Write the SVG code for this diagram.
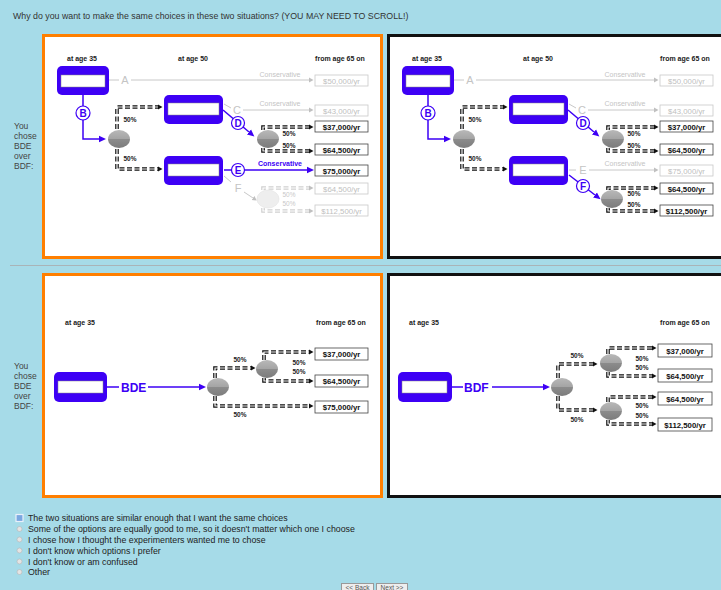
<svg xmlns="http://www.w3.org/2000/svg" width="721" height="590" viewBox="0 0 721 590">
<defs>
<style>
text{font-family:"Liberation Sans",Arial,sans-serif}
.q{font-size:8.8px;fill:#333}
.side{font-size:8.5px;fill:#444}
.opt{font-size:8.8px;fill:#222}
.hdr{font-size:7px;font-weight:bold;fill:#222;text-anchor:middle}
.box{fill:#fff;stroke:#444;stroke-width:0.8}
.boxg{fill:#fff;stroke:#c8c8c8;stroke-width:0.8}
.val{font-size:7.8px;font-weight:bold;fill:#111;text-anchor:middle}
.valg{font-size:7.8px;fill:#c0c0c0;text-anchor:middle}
.node{fill:#3d00f5}
.inner{fill:#fff;stroke:#888;stroke-width:0.5}
.blue{stroke:#3d00f5;stroke-width:1.5;fill:none}
.gray{stroke:#c8c8c8;stroke-width:1;fill:none}
.dash{stroke:#111;stroke-width:3.6;stroke-dasharray:5 2.5;fill:none}
.dashg{stroke:#d0d0d0;stroke-width:3.6;stroke-dasharray:5 2.5;fill:none}
.dw{stroke:#fff;stroke-width:1.2;fill:none}
.pct{font-size:6.5px;font-weight:bold;fill:#222;text-anchor:middle}
.pctg{font-size:6.5px;fill:#c8c8c8;text-anchor:middle}
.lc{fill:#fff;stroke:#3d00f5;stroke-width:1.2}
.lt{font-size:10px;font-weight:bold;fill:#3d00f5;text-anchor:middle}
.lg{font-size:11px;fill:#c4c4c4;text-anchor:middle}
.cons{font-size:7px;fill:#c4c4c4;text-anchor:middle}
.consb{font-size:7px;font-weight:bold;fill:#3d00f5;text-anchor:middle}
.big{font-size:12px;font-weight:bold;fill:#3d00f5}
.chance{fill:url(#cg)}
.ghost{fill:#eeeeee;stroke:#e2e2e2;stroke-width:0.6}
.btn{fill:#eeeeee;stroke:#999;stroke-width:1}
.btnt{font-size:6.5px;fill:#555;text-anchor:middle}
</style>
<linearGradient id="cg" x1="0" y1="0" x2="0" y2="1">
<stop offset="0" stop-color="#b8b8b8"/><stop offset="0.5" stop-color="#a4a4a4"/>
<stop offset="0.5" stop-color="#8c8c8c"/><stop offset="1" stop-color="#7c7c7c"/>
</linearGradient>
<marker id="ab" markerUnits="userSpaceOnUse" markerWidth="8" markerHeight="8" refX="0" refY="4" orient="auto"><path d="M0,0.8 L7,4 L0,7.2z" fill="#3d00f5"/></marker>
<marker id="ak" markerUnits="userSpaceOnUse" markerWidth="6" markerHeight="6" refX="0" refY="3" orient="auto"><path d="M0,0.5 L4.5,3 L0,5.5z" fill="#111"/></marker>
<marker id="ag" markerUnits="userSpaceOnUse" markerWidth="6" markerHeight="6" refX="0" refY="3" orient="auto"><path d="M0,0.5 L4.5,3 L0,5.5z" fill="#c0c0c0"/></marker>
</defs>

<rect x="0" y="0" width="721" height="590" fill="#A6DBE8"/>
<text class="q" x="13" y="19">Why do you want to make the same choices in these two situations? (YOU MAY NEED TO SCROLL!)</text>

<text class="side"><tspan x="14" y="129">You</tspan><tspan x="14" y="139">chose</tspan><tspan x="14" y="149">BDE</tspan><tspan x="14" y="159">over</tspan><tspan x="14" y="169">BDF:</tspan></text>
<text class="side"><tspan x="14" y="369">You</tspan><tspan x="14" y="379">chose</tspan><tspan x="14" y="389">BDE</tspan><tspan x="14" y="399">over</tspan><tspan x="14" y="409">BDF:</tspan></text>

<line x1="10" y1="265.5" x2="721" y2="265.5" stroke="#a9b4b8" stroke-width="1"/>

<!-- panel frames -->
<rect x="43.5" y="35.5" width="338" height="222" fill="#fff" stroke="#FF7F00" stroke-width="3"/>
<rect x="388.5" y="35.5" width="340" height="222" fill="#fff" stroke="#111" stroke-width="3"/>
<rect x="43.5" y="274.5" width="338" height="222" fill="#fff" stroke="#FF7F00" stroke-width="3"/>
<rect x="388.5" y="274.5" width="340" height="222" fill="#fff" stroke="#111" stroke-width="3"/>

<!-- ===== TOP LEFT PANEL ===== -->
<g id="top-left">
<text class="hdr" x="82" y="61">at age 35</text>
<text class="hdr" x="193" y="61">at age 50</text>
<text class="hdr" x="340" y="61">from age 65 on</text>
<g id="tl-connectors">
<path class="gray" d="M109,80 H119"/><path class="gray" d="M131,80 H309" marker-end="url(#ag)"/>
<path class="blue" d="M83,95 V139 H99" marker-end="url(#ab)"/>
<path class="dash" d="M117,129 V107 H158" marker-end="url(#ak)"/><path class="dw" d="M117,129 V107 H158"/>
<path class="dash" d="M117,149 V169 H158" marker-end="url(#ak)"/><path class="dw" d="M117,149 V169 H158"/>
<path class="gray" d="M224,104 L231,108"/><path class="gray" d="M243,110 H309" marker-end="url(#ag)"/>
<path class="blue" d="M223,110 L249,132" marker-end="url(#ab)"/>
<path class="dash" d="M263,130 V127 H309" marker-end="url(#ak)"/><path class="dw" d="M263,130 V127 H309"/>
<path class="dash" d="M263,148 V151 H309" marker-end="url(#ak)"/><path class="dw" d="M263,148 V151 H309"/>
<path class="blue" d="M224,170 H307" marker-end="url(#ab)"/>
<path class="gray" d="M224,176 L231,182"/><path class="gray" d="M244,192 L253,198" marker-end="url(#ag)"/>
<path class="dashg" d="M263,190 V188 H309" marker-end="url(#ag)"/><path class="dw" d="M263,190 V188 H309"/>
<path class="dashg" d="M263,208 V211 H309" marker-end="url(#ag)"/><path class="dw" d="M263,208 V211 H309"/>
</g>
<text class="lg" x="125" y="84">A</text>
<text class="cons" x="280" y="77">Conservative</text>
<text class="lg" x="237" y="114">C</text>
<text class="cons" x="280" y="106">Conservative</text>
<text class="consb" x="280" y="166">Conservative</text>
<text class="lg" x="238" y="192">F</text>
<g id="tl-start"><rect class="node" x="57" y="66" width="52" height="29" rx="5"/><rect class="inner" x="61" y="75" width="44" height="12"/></g>
<g id="tl-B"><circle class="lc" cx="83" cy="113" r="7"/><text class="lt" x="83" y="116.5">B</text></g>
<g id="tl-chance1"><ellipse class="chance" cx="119" cy="139" rx="11" ry="9"/></g>
<text class="pct" x="130" y="122">50%</text><text class="pct" x="130" y="161">50%</text>
<g id="tl-node2"><rect class="node" x="164" y="95" width="59" height="29" rx="5"/><rect class="inner" x="168" y="103" width="51" height="12"/></g>
<g id="tl-node3"><rect class="node" x="164" y="156" width="59" height="29" rx="5"/><rect class="inner" x="168" y="164" width="51" height="12"/></g>
<g id="tl-D"><circle class="lc" cx="238" cy="123" r="6.5"/><text class="lt" x="238" y="126.5">D</text></g>
<g id="tl-E"><circle class="lc" cx="238" cy="170" r="6.5"/><text class="lt" x="238" y="173.5">E</text></g>
<g id="tl-chance2"><ellipse class="chance" cx="268" cy="139" rx="11" ry="9"/></g>
<g id="tl-chance3"><ellipse class="ghost" cx="268" cy="199" rx="11" ry="9"/></g>
<text class="pct" x="289" y="135.5">50%</text><text class="pct" x="289" y="148">50%</text>
<text class="pctg" x="289" y="197">50%</text><text class="pctg" x="289" y="206">50%</text>
<g id="tl-o1"><rect class="boxg" x="315" y="75" width="53" height="11"/><text class="valg" x="341.5" y="83.5">$50,000/yr</text></g>
<g id="tl-o2"><rect class="boxg" x="315" y="105" width="53" height="11"/><text class="valg" x="341.5" y="113.5">$43,000/yr</text></g>
<g id="tl-o3"><rect class="box" x="315" y="121" width="53" height="11"/><text class="val" x="341.5" y="129.5">$37,000/yr</text></g>
<g id="tl-o4"><rect class="box" x="315" y="144" width="53" height="11"/><text class="val" x="341.5" y="152.5">$64,500/yr</text></g>
<g id="tl-o5"><rect class="box" x="315" y="165" width="53" height="11"/><text class="val" x="341.5" y="173.5">$75,000/yr</text></g>
<g id="tl-o6"><rect class="boxg" x="315" y="183" width="53" height="11"/><text class="valg" x="341.5" y="191.5">$64,500/yr</text></g>
<g id="tl-o7"><rect class="boxg" x="315" y="205" width="53" height="11"/><text class="valg" x="341.5" y="213.5">$112,500/yr</text></g>
</g>

<!-- ===== TOP RIGHT PANEL ===== -->
<g id="top-right" transform="translate(345,0)">
<text class="hdr" x="82" y="61">at age 35</text>
<text class="hdr" x="193" y="61">at age 50</text>
<text class="hdr" x="340" y="61">from age 65 on</text>
<g id="tr-connectors">
<path class="gray" d="M109,80 H119"/><path class="gray" d="M131,80 H309" marker-end="url(#ag)"/>
<path class="blue" d="M83,95 V139 H99" marker-end="url(#ab)"/>
<path class="dash" d="M117,129 V107 H158" marker-end="url(#ak)"/><path class="dw" d="M117,129 V107 H158"/>
<path class="dash" d="M117,149 V169 H158" marker-end="url(#ak)"/><path class="dw" d="M117,149 V169 H158"/>
<path class="gray" d="M224,104 L231,108"/><path class="gray" d="M243,110 H309" marker-end="url(#ag)"/>
<path class="blue" d="M223,110 L249,132" marker-end="url(#ab)"/>
<path class="dash" d="M263,130 V127 H309" marker-end="url(#ak)"/><path class="dw" d="M263,130 V127 H309"/>
<path class="dash" d="M263,148 V151 H309" marker-end="url(#ak)"/><path class="dw" d="M263,148 V151 H309"/>
<path class="gray" d="M224,170 H231"/><path class="gray" d="M244,170 H309" marker-end="url(#ag)"/>
<path class="blue" d="M224,175 L250,195" marker-end="url(#ab)"/>
<path class="dash" d="M263,190 V188 H309" marker-end="url(#ak)"/><path class="dw" d="M263,190 V188 H309"/>
<path class="dash" d="M263,208 V211 H309" marker-end="url(#ak)"/><path class="dw" d="M263,208 V211 H309"/>
</g>
<text class="lg" x="125" y="84">A</text>
<text class="cons" x="280" y="77">Conservative</text>
<text class="lg" x="237" y="114">C</text>
<text class="cons" x="280" y="106">Conservative</text>
<text class="lg" x="238" y="174">E</text>
<text class="cons" x="280" y="166">Conservative</text>
<g id="tr-start"><rect class="node" x="57" y="66" width="52" height="29" rx="5"/><rect class="inner" x="61" y="75" width="44" height="12"/></g>
<g id="tr-B"><circle class="lc" cx="83" cy="113" r="7"/><text class="lt" x="83" y="116.5">B</text></g>
<g id="tr-chance1"><ellipse class="chance" cx="119" cy="139" rx="11" ry="9"/></g>
<text class="pct" x="130" y="122">50%</text><text class="pct" x="130" y="161">50%</text>
<g id="tr-node2"><rect class="node" x="164" y="95" width="59" height="29" rx="5"/><rect class="inner" x="168" y="103" width="51" height="12"/></g>
<g id="tr-node3"><rect class="node" x="164" y="156" width="59" height="29" rx="5"/><rect class="inner" x="168" y="164" width="51" height="12"/></g>
<g id="tr-D"><circle class="lc" cx="238" cy="123" r="6.5"/><text class="lt" x="238" y="126.5">D</text></g>
<g id="tr-F"><circle class="lc" cx="238" cy="186" r="6.5"/><text class="lt" x="238" y="189.5">F</text></g>
<g id="tr-chance2"><ellipse class="chance" cx="268" cy="139" rx="11" ry="9"/></g>
<g id="tr-chance3"><ellipse class="chance" cx="267" cy="199" rx="11" ry="9"/></g>
<text class="pct" x="289" y="135.5">50%</text><text class="pct" x="289" y="148">50%</text>
<text class="pct" x="289" y="196">50%</text><text class="pct" x="289" y="207">50%</text>
<g id="tr-o1"><rect class="boxg" x="315" y="75" width="53" height="11"/><text class="valg" x="341.5" y="83.5">$50,000/yr</text></g>
<g id="tr-o2"><rect class="boxg" x="315" y="105" width="53" height="11"/><text class="valg" x="341.5" y="113.5">$43,000/yr</text></g>
<g id="tr-o3"><rect class="box" x="315" y="121" width="53" height="11"/><text class="val" x="341.5" y="129.5">$37,000/yr</text></g>
<g id="tr-o4"><rect class="box" x="315" y="144" width="53" height="11"/><text class="val" x="341.5" y="152.5">$64,500/yr</text></g>
<g id="tr-o5"><rect class="boxg" x="315" y="165" width="53" height="11"/><text class="valg" x="341.5" y="173.5">$75,000/yr</text></g>
<g id="tr-o6"><rect class="box" x="315" y="183" width="53" height="11"/><text class="val" x="341.5" y="191.5">$64,500/yr</text></g>
<g id="tr-o7"><rect class="box" x="315" y="205" width="53" height="11"/><text class="val" x="341.5" y="213.5">$112,500/yr</text></g>
</g>

<!-- ===== BOTTOM LEFT PANEL ===== -->
<g id="bottom-left">
<text class="hdr" x="80" y="325">at age 35</text>
<text class="hdr" x="341" y="325">from age 65 on</text>
<g id="bl-connectors">
<path class="blue" d="M107,387 H119"/>
<path class="blue" d="M148,387 H199" marker-end="url(#ab)"/>
<path class="dash" d="M215,378 V368 H251" marker-end="url(#ak)"/><path class="dw" d="M215,378 V368 H251"/>
<path class="dash" d="M215,396 V406 H309" marker-end="url(#ak)"/><path class="dw" d="M215,396 V406 H309"/>
<path class="dash" d="M264,360 V352 H309" marker-end="url(#ak)"/><path class="dw" d="M264,360 V352 H309"/>
<path class="dash" d="M264,378 V381 H309" marker-end="url(#ak)"/><path class="dw" d="M264,378 V381 H309"/>
</g>
<g id="bl-start"><rect class="node" x="54" y="372" width="53" height="30" rx="5"/><rect class="inner" x="58" y="381" width="45" height="12"/></g>
<text class="big" x="121" y="391.5">BDE</text>
<g id="bl-chance1"><ellipse class="chance" cx="218" cy="387" rx="11" ry="9"/></g>
<g id="bl-chance2"><ellipse class="chance" cx="267" cy="369" rx="11" ry="9"/></g>
<text class="pct" x="240" y="362">50%</text><text class="pct" x="240" y="417">50%</text>
<text class="pct" x="299" y="365">50%</text><text class="pct" x="299" y="374">50%</text>
<g id="bl-o1"><rect class="box" x="315" y="348" width="53" height="12"/><text class="val" x="341.5" y="357">$37,000/yr</text></g>
<g id="bl-o2"><rect class="box" x="315" y="375" width="53" height="12"/><text class="val" x="341.5" y="384">$64,500/yr</text></g>
<g id="bl-o3"><rect class="box" x="315" y="401" width="53" height="12"/><text class="val" x="341.5" y="410">$75,000/yr</text></g>
</g>

<!-- ===== BOTTOM RIGHT PANEL ===== -->
<g id="bottom-right">
<text class="hdr" x="424" y="325">at age 35</text>
<text class="hdr" x="685" y="325">from age 65 on</text>
<g id="br-connectors">
<path class="blue" d="M452,387 H463"/>
<path class="blue" d="M492,387 H543" marker-end="url(#ab)"/>
<path class="dash" d="M558,378 V364 H593" marker-end="url(#ak)"/><path class="dw" d="M558,378 V364 H593"/>
<path class="dash" d="M558,396 V410 H593" marker-end="url(#ak)"/><path class="dw" d="M558,396 V410 H593"/>
<path class="dash" d="M608,354 V348 H652" marker-end="url(#ak)"/><path class="dw" d="M608,354 V348 H652"/>
<path class="dash" d="M608,372 V376 H652" marker-end="url(#ak)"/><path class="dw" d="M608,372 V376 H652"/>
<path class="dash" d="M608,402 V397 H652" marker-end="url(#ak)"/><path class="dw" d="M608,402 V397 H652"/>
<path class="dash" d="M608,420 V424 H652" marker-end="url(#ak)"/><path class="dw" d="M608,420 V424 H652"/>
</g>
<g id="br-start"><rect class="node" x="398" y="372" width="54" height="30" rx="5"/><rect class="inner" x="402" y="381" width="45" height="12"/></g>
<text class="big" x="464" y="391.5">BDF</text>
<g id="br-chance1"><ellipse class="chance" cx="562" cy="387" rx="11" ry="9"/></g>
<g id="br-chance2"><ellipse class="chance" cx="611" cy="363" rx="11" ry="9"/></g>
<g id="br-chance3"><ellipse class="chance" cx="611" cy="411" rx="11" ry="9"/></g>
<text class="pct" x="577" y="358">50%</text><text class="pct" x="577" y="422">50%</text>
<text class="pct" x="642" y="361">50%</text><text class="pct" x="642" y="370">50%</text>
<text class="pct" x="642" y="408">50%</text><text class="pct" x="642" y="418">50%</text>
<g id="br-o1"><rect class="box" x="658" y="344" width="54" height="13"/><text class="val" x="685" y="353.5">$37,000/yr</text></g>
<g id="br-o2"><rect class="box" x="658" y="369" width="54" height="13"/><text class="val" x="685" y="378.5">$64,500/yr</text></g>
<g id="br-o3"><rect class="box" x="658" y="392" width="54" height="13"/><text class="val" x="685" y="401.5">$64,500/yr</text></g>
<g id="br-o4"><rect class="box" x="658" y="418" width="54" height="13"/><text class="val" x="685" y="427.5">$112,500/yr</text></g>
</g>

<!-- options -->
<g id="options">
<rect x="16" y="514.5" width="7" height="7" fill="#7aa7e0" stroke="#e8f0fa" stroke-width="1.2"/>
<circle cx="19.5" cy="529" r="2.5" fill="#e4e4e4" stroke="#b5b5b5" stroke-width="0.6"/>
<circle cx="19.5" cy="539.5" r="2.5" fill="#e4e4e4" stroke="#b5b5b5" stroke-width="0.6"/>
<circle cx="19.5" cy="550.5" r="2.5" fill="#e4e4e4" stroke="#b5b5b5" stroke-width="0.6"/>
<circle cx="19.5" cy="561.5" r="2.5" fill="#e4e4e4" stroke="#b5b5b5" stroke-width="0.6"/>
<circle cx="19.5" cy="572" r="2.5" fill="#e4e4e4" stroke="#b5b5b5" stroke-width="0.6"/>
<text class="opt" x="28" y="521">The two situations are similar enough that I want the same choices</text>
<text class="opt" x="28" y="532">Some of the options are equally good to me, so it doesn't matter which one I choose</text>
<text class="opt" x="28" y="542.5">I chose how I thought the experimenters wanted me to chose</text>
<text class="opt" x="28" y="553.5">I don't know which options I prefer</text>
<text class="opt" x="28" y="564.5">I don't know or am confused</text>
<text class="opt" x="28" y="575">Other</text>
</g>
<g id="buttons">
<rect class="btn" x="341.5" y="583.5" width="32" height="12"/>
<rect class="btn" x="376.5" y="583.5" width="31" height="12"/>
<text class="btnt" x="357.5" y="589.5">&lt;&lt; Back</text>
<text class="btnt" x="392" y="589.5">Next &gt;&gt;</text>
</g>
</svg>
